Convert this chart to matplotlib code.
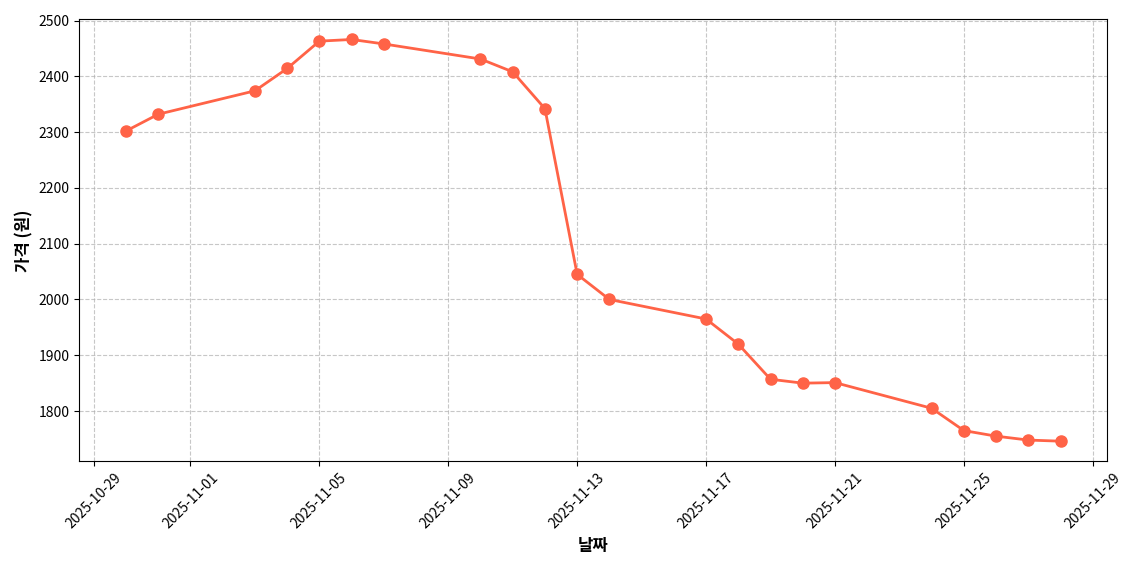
import matplotlib
matplotlib.use('Agg')
import matplotlib.pyplot as plt
import matplotlib.dates as mdates
import pandas as pd

plt.rcParams['font.family'] = ['Noto Sans CJK KR', 'DejaVu Sans']
plt.rcParams['axes.unicode_minus'] = False

dates = ['2025-10-30', '2025-10-31', '2025-11-03', '2025-11-04', '2025-11-05',
         '2025-11-06', '2025-11-07', '2025-11-10', '2025-11-11', '2025-11-12',
         '2025-11-13', '2025-11-14', '2025-11-17', '2025-11-18', '2025-11-19',
         '2025-11-20', '2025-11-21', '2025-11-24', '2025-11-25', '2025-11-26',
         '2025-11-27', '2025-11-28']
prices = [2302, 2332, 2374, 2414, 2463, 2466, 2458, 2431, 2408, 2342,
          2045, 2000, 1965, 1920, 1857, 1850, 1851, 1805, 1765, 1755,
          1748, 1746]

x = pd.to_datetime(dates)

fig, ax = plt.subplots(figsize=(11.4, 5.7), dpi=100)
ax.plot(x, prices, color='#FF6347', linewidth=2, marker='o', markersize=8)
ax.set_xlabel('날짜', fontsize=12, fontweight='bold')
ax.set_ylabel('가격 (원)', fontsize=12, fontweight='bold')
ax.grid(True, linestyle='--', alpha=0.7)
ax.xaxis.set_major_locator(mdates.DayLocator(bymonthday=[1, 5, 9, 13, 17, 21, 25, 29]))
ax.xaxis.set_major_formatter(mdates.DateFormatter('%Y-%m-%d'))
plt.setp(ax.get_xticklabels(), rotation=45)
plt.tight_layout()
plt.savefig('out.png')
plt.close(fig)
